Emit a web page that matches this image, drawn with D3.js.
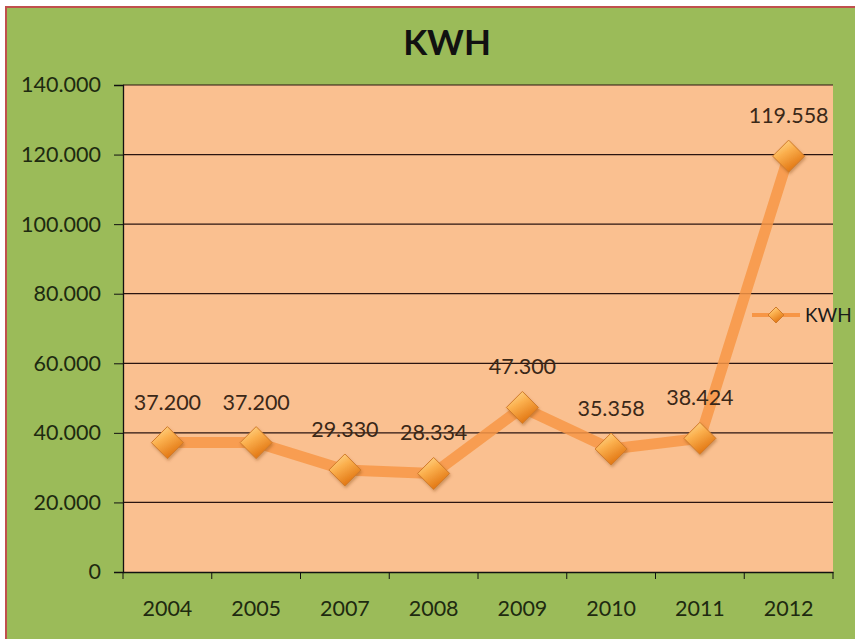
<!DOCTYPE html>
<html>
<head>
<meta charset="utf-8">
<script src="https://cdn.jsdelivr.net/npm/d3@7"></script>
<style>
  body { margin: 0; background: #fff; }
  svg { display: block; }
</style>
</head>
<body>
<div id="wrapper"></div>
<script>
// data
const years = ["2004", "2005", "2007", "2008", "2009", "2010", "2011", "2012"];
const kwh = [37200, 37200, 29330, 28334, 47300, 35358, 38424, 119558];
const yTicks = [0, 20000, 40000, 60000, 80000, 100000, 120000, 140000];
const seriesName = "KWH";

const data = years.map((y, i) => ({ year: y, value: kwh[i] }));

// dotted thousands like the original
const locale = d3.formatLocale({ decimal: ",", thousands: ".", grouping: [3], currency: ["", ""] });
const fmt = locale.format(",d");

let dimensions = {
  width: 855,
  height: 639,
  margin: { top: 85, right: 22, bottom: 67, left: 123 }
};
dimensions.boundedWidth = dimensions.width - dimensions.margin.left - dimensions.margin.right;
dimensions.boundedHeight = dimensions.height - dimensions.margin.top - dimensions.margin.bottom;

const font = "Lato, 'Open Sans', sans-serif";

const wrapper = d3.select("#wrapper")
  .append("svg")
  .attr("width", dimensions.width)
  .attr("height", dimensions.height);

const defs = wrapper.append("defs");
const grad = defs.append("linearGradient")
  .attr("id", "markerGrad")
  .attr("x1", "0").attr("y1", "0").attr("x2", "0.6").attr("y2", "1");
grad.append("stop").attr("offset", "0%").attr("stop-color", "#ffe3a0");
grad.append("stop").attr("offset", "45%").attr("stop-color", "#fbb04e");
grad.append("stop").attr("offset", "100%").attr("stop-color", "#e0720e");

const blur = defs.append("filter").attr("id", "shadow")
  .attr("x", "-50%").attr("y", "-50%").attr("width", "200%").attr("height", "200%");
blur.append("feDropShadow")
  .attr("dx", 1).attr("dy", 2).attr("stdDeviation", 1.5)
  .attr("flood-color", "#7a3a00").attr("flood-opacity", 0.35);

// chart background + border (only top/left visible in the original)
wrapper.append("rect")
  .attr("x", 0).attr("y", 0)
  .attr("width", dimensions.width).attr("height", dimensions.height)
  .attr("fill", "#ffffff");
wrapper.append("rect")
  .attr("x", 6).attr("y", 7)
  .attr("width", dimensions.width).attr("height", dimensions.height)
  .attr("fill", "#9bbb59")
  .attr("stroke", "#c0504d")
  .attr("stroke-width", 2);

// title
wrapper.append("text")
  .attr("x", 447)
  .attr("y", 55)
  .attr("text-anchor", "middle")
  .attr("font-family", font)
  .attr("font-weight", "bold")
  .attr("font-size", 35)
  .attr("fill", "#111")
  .text(seriesName);

const bounds = wrapper.append("g")
  .attr("transform", `translate(${dimensions.margin.left}, ${dimensions.margin.top})`);

// scales
const xScale = d3.scaleBand()
  .domain(years)
  .range([0, dimensions.boundedWidth])
  .padding(0);

const yScale = d3.scaleLinear()
  .domain([0, 140000])
  .range([dimensions.boundedHeight, 0]);

// plot area
bounds.append("rect")
  .attr("width", dimensions.boundedWidth)
  .attr("height", dimensions.boundedHeight)
  .attr("fill", "#fac090");

// gridlines
bounds.append("g")
  .selectAll("line")
  .data(yTicks.filter(d => d > 0))
  .join("line")
  .attr("x1", 0)
  .attr("x2", dimensions.boundedWidth)
  .attr("y1", d => yScale(d))
  .attr("y2", d => yScale(d))
  .attr("stroke", "#2a1410")
  .attr("stroke-width", 1.2);

// y axis
const yAxisGenerator = d3.axisLeft(yScale)
  .tickValues(yTicks)
  .tickFormat(fmt)
  .tickSize(9)
  .tickPadding(13);

const yAxis = bounds.append("g").call(yAxisGenerator);
yAxis.select(".domain").attr("stroke", "#111").attr("stroke-width", 1.3);
yAxis.selectAll(".tick line").attr("stroke", "#111");
yAxis.selectAll("text")
  .attr("font-family", font)
  .attr("font-size", 21.5)
  .attr("fill", "#1e2a10");

// x axis: labels at band centres, tick marks at band edges
const xAxisGenerator = d3.axisBottom(xScale)
  .tickSize(0)
  .tickPadding(29);

const xAxis = bounds.append("g")
  .attr("transform", `translate(0, ${dimensions.boundedHeight})`)
  .call(xAxisGenerator);
xAxis.select(".domain").attr("stroke", "#111").attr("stroke-width", 1.3);
xAxis.selectAll("text")
  .attr("font-family", font)
  .attr("font-size", 21.5)
  .attr("fill", "#1e2a10");

const edges = years.map(d => xScale(d)).concat([xScale.range()[1]]);
xAxis.append("g")
  .selectAll("line")
  .data(edges)
  .join("line")
  .attr("x1", d => d).attr("x2", d => d)
  .attr("y1", 0).attr("y2", 7)
  .attr("stroke", "#111");

// line
const cx = d => xScale(d.year) + xScale.bandwidth() / 2;
const cy = d => yScale(d.value);

const lineGenerator = d3.line().x(cx).y(cy);

bounds.append("path")
  .attr("d", lineGenerator(data))
  .attr("fill", "none")
  .attr("stroke", "#f79646")
  .attr("stroke-opacity", 0.85)
  .attr("stroke-width", 11)
  .attr("stroke-linejoin", "round");

// markers
const diamond = (r, h) => `M0,${-h}L${r},0L0,${h}L${-r},0Z`;

bounds.append("g")
  .selectAll("path")
  .data(data)
  .join("path")
  .attr("transform", d => `translate(${cx(d)}, ${cy(d)})`)
  .attr("d", diamond(16, 16))
  .attr("fill", "url(#markerGrad)")
  .attr("stroke", "#d07a2a")
  .attr("stroke-width", 1)
  .attr("filter", "url(#shadow)");

// data labels
bounds.append("g")
  .selectAll("text")
  .data(data)
  .join("text")
  .attr("x", cx)
  .attr("y", d => cy(d) - 33)
  .attr("text-anchor", "middle")
  .attr("font-family", font)
  .attr("font-size", 21.5)
  .attr("fill", "#3a2818")
  .text(d => fmt(d.value));

// legend
const legend = wrapper.append("g")
  .attr("transform", "translate(752, 315)");
legend.append("line")
  .attr("x1", 0).attr("x2", 48)
  .attr("stroke", "#f79646")
  .attr("stroke-width", 4);
legend.append("path")
  .attr("transform", "translate(24, 0)")
  .attr("d", diamond(8, 8))
  .attr("fill", "url(#markerGrad)")
  .attr("stroke", "#d07a2a");
legend.append("text")
  .attr("x", 53)
  .attr("y", 7)
  .attr("font-family", font)
  .attr("font-size", 19)
  .attr("fill", "#1a1a1a")
  .text(seriesName);
</script>
</body>
</html>
